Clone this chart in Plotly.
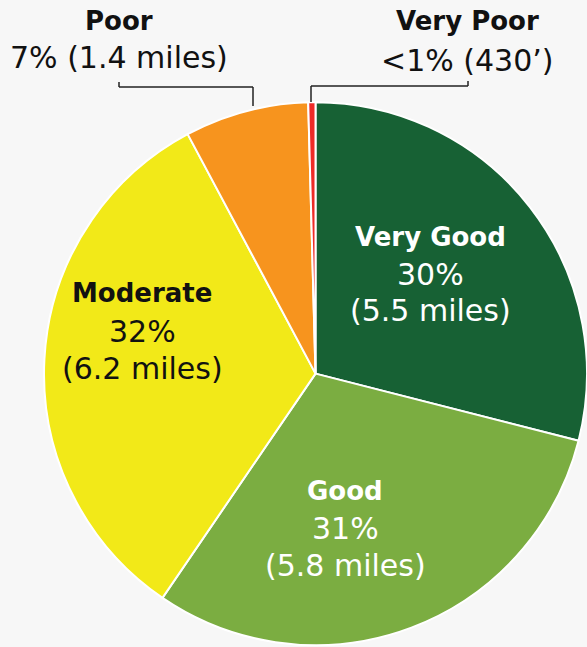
import plotly.graph_objects as go

# ---- data ----
categories = ["Very Good", "Good", "Moderate", "Poor", "Very Poor"]
miles = [5.5, 5.8, 6.2, 1.4, 430 / 5280]
pct_labels = ["30%", "31%", "32%", "7%", "<1%"]
length_labels = ["5.5 miles", "5.8 miles", "6.2 miles", "1.4 miles", "430\u2019"]
colors = ["#176134", "#7BAD41", "#F2E918", "#F7941E", "#EE2B27"]

W, H = 587, 647
FONT = "DejaVu Sans"
BOLD_SIZE = 26
REG_SIZE = 30

fig = go.Figure(go.Pie(
    labels=categories,
    values=miles,
    sort=False,
    direction="clockwise",
    rotation=0,
    marker=dict(colors=colors, line=dict(color="white", width=2)),
    textinfo="none",
    hoverinfo="label+percent",
    showlegend=False,
    domain=dict(x=[0.075, 1.0], y=[0.0, 0.845]),
))


def px(x, y):
    return x / W, 1 - y / H


annotations = []


def add_line(text, x, y, size, color, bold=False):
    ax, ay = px(x, y)
    annotations.append(dict(
        x=ax, y=ay, xref="paper", yref="paper", showarrow=False,
        text=f"<b>{text}</b>" if bold else text,
        font=dict(family=FONT, size=size, color=color),
        xanchor="center", yanchor="middle", align="center",
    ))


# inside labels: x centre and y centre of each of the three lines (pixels)
inside_layout = {
    0: (430, (237, 274, 310), "white"),
    1: (345, (491, 528, 565), "white"),
    2: (142, (293, 331, 368), "#111111"),
}
for i, (x, ys, col) in inside_layout.items():
    add_line(categories[i], x, ys[0], BOLD_SIZE, col, bold=True)
    add_line(pct_labels[i], x, ys[1], REG_SIZE, col)
    add_line(f"({length_labels[i]})", x, ys[2], REG_SIZE, col)

# outside labels
outside_layout = {
    3: (119, (21, 58)),
    4: (467, (21, 60)),
}
for i, (x, ys) in outside_layout.items():
    add_line(categories[i], x, ys[0], BOLD_SIZE, "#111111", bold=True)
    add_line(f"{pct_labels[i]} ({length_labels[i]})", x, ys[1], REG_SIZE, "#111111")

# leader lines (pixel paths)
leaders = [
    [(119, 82), (119, 87), (253, 87), (253, 106)],
    [(468, 81), (468, 86), (311, 86), (311, 102)],
]
shapes = []
for pts in leaders:
    for (x0, y0), (x1, y1) in zip(pts[:-1], pts[1:]):
        a0, b0 = px(x0, y0)
        a1, b1 = px(x1, y1)
        shapes.append(dict(type="line", xref="paper", yref="paper",
                           x0=a0, y0=b0, x1=a1, y1=b1,
                           line=dict(color="#222222", width=1.5)))

fig.update_layout(
    width=W, height=H,
    margin=dict(l=0, r=0, t=0, b=0),
    paper_bgcolor="#F7F7F7",
    plot_bgcolor="#F7F7F7",
    annotations=annotations,
    shapes=shapes,
    font=dict(family=FONT),
)

fig.write_html(
    "out.html",
    config={"displayModeBar": False},
    post_script="document.body.style.margin='0';document.body.style.background='#F7F7F7';",
)
